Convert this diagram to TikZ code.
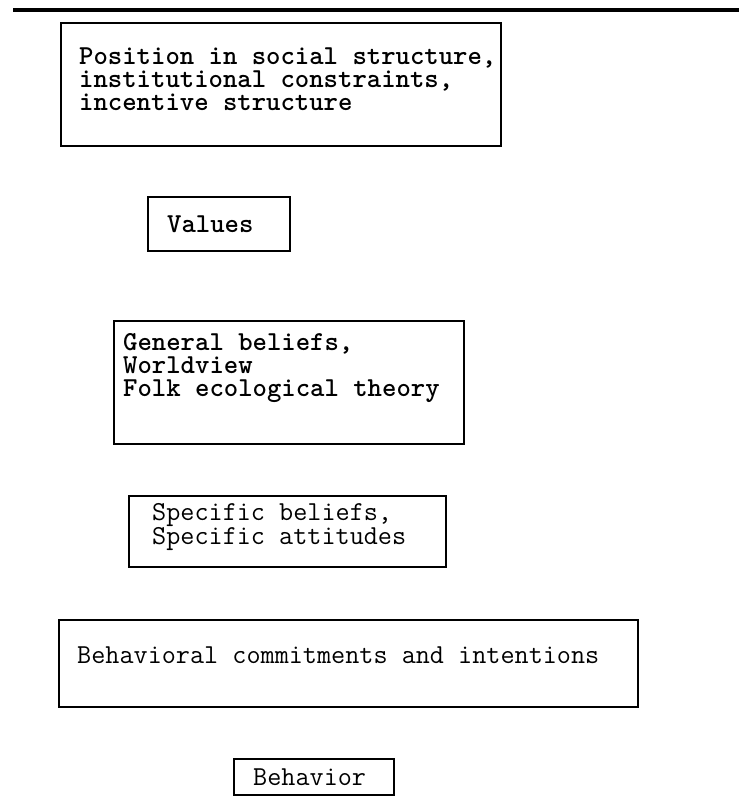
\documentclass[tikz,border=0pt]{standalone}
\usetikzlibrary{positioning}

\begin{document}
\begin{tikzpicture}[x=1pt,y=-1pt,
    frame/.style={draw,line width=1.6pt,anchor=north west,inner sep=0pt},
    words/.style={align=left,inner sep=0pt,
                  font=\ttfamily\bfseries\fontsize{27.4}{23}\selectfont},
    plainwords/.style={words,font=\ttfamily\fontsize{27.4}{23}\selectfont}]
  \useasboundingbox (0,0) rectangle (739,810);
  % heading rule
  \coordinate (rulestart) at (13,10);
  \coordinate (ruleend) at (739,10);
  \draw[line width=3.5pt] (rulestart) -- (ruleend);
  % the six boxes, top to bottom
  \node[frame,minimum width=440pt,minimum height=123pt] (position) at (60,22) {};
  \node[frame,minimum width=142pt,minimum height=54pt] (values) at (147,196) {};
  \node[frame,minimum width=350pt,minimum height=123pt] (general) at (113,320) {};
  \node[frame,minimum width=317pt,minimum height=71pt] (specific) at (128,495) {};
  \node[frame,minimum width=579pt,minimum height=87pt] (commit) at (58,619) {};
  \node[frame,minimum width=160pt,minimum height=36pt] (behavior) at (233,758) {};
  % their texts
  \node[words,below right=25.3pt and 19pt of position.north west] (position-text)
       {Position in social structure,\\institutional constraints,\\incentive structure};
  \node[words,below right=19.3pt and 20pt of values.north west] (values-text) {Values};
  \node[words,below right=13.3pt and 10pt of general.north west] (general-text)
       {General beliefs,\\Worldview\\Folk ecological theory};
  \node[plainwords,below right=8.3pt and 24pt of specific.north west] (specific-text)
       {Specific beliefs,\\Specific attitudes};
  \node[plainwords,below right=27.3pt and 19pt of commit.north west] (commit-text)
       {Behavioral commitments and intentions};
  \node[plainwords,below right=10.3pt and 20pt of behavior.north west] (behavior-text) {Behavior};
\end{tikzpicture}
\end{document}
